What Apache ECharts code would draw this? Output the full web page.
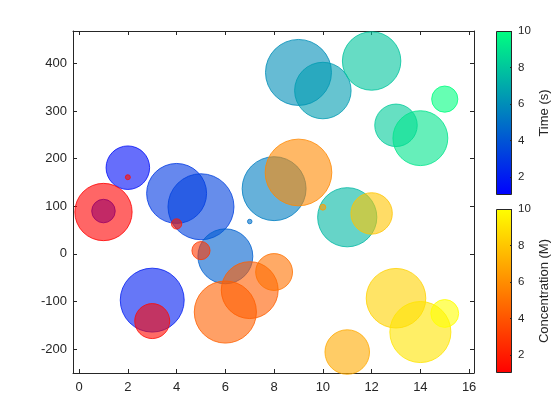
<!DOCTYPE html>
<html>
<head>
<meta charset="utf-8">
<script src="https://cdn.jsdelivr.net/npm/echarts@6/dist/echarts.min.js"></script>
<style>html,body{margin:0;padding:0;background:#fff;}#c{width:560px;height:420px;}</style>
</head>
<body>
<div id="c"></div>
<script>
// ---- data ----
const xValues = [1, 2, 3, 4, 5, 6, 7, 8, 9, 10, 11, 12, 13, 14, 15];
const timeY    = [90, 181, -97, 127, 99, -5, 68, 137, 381, 343, 77, 405, 270, 243, 325];
const timeSize = [12, 42, 91, 80, 97, 67, 0.1, 91, 97, 71, 78, 76, 40, 67, 15];
const timeVal  = [1, 1.5, 2, 3, 3.3, 4.4, 4.9, 5.4, 6, 6.5, 7.5, 7.9, 8.2, 9.1, 10];
const concY    = [88, 161, -141, 63, 7, -122, -76, -38, 171, 98, -206, 85, -93, -164, -125];
const concSize = [73, 0.2, 27, 2, 7, 86, 72, 30, 99, 0.4, 44, 38, 79, 83, 17];
const concVal  = [1, 1.5, 1.3, 2, 3, 4.4, 4.3, 5, 5.8, 6.5, 7, 7.9, 8.4, 9.1, 10];
const xTicks = [0, 2, 4, 6, 8, 10, 12, 14, 16];
const yTicks = [-200, -100, 0, 100, 200, 300, 400];
const cbTicks = [2, 4, 6, 8, 10];
const cbMin = 1, cbMax = 10;

// ---- colormaps ----
function winter(v) {
  const t = Math.max(0, Math.min(1, (v - cbMin) / (cbMax - cbMin)));
  return [0, Math.round(255 * t), Math.round(255 * (1 - 0.5 * t))];
}
function autumn(v) {
  const t = Math.max(0, Math.min(1, (v - cbMin) / (cbMax - cbMin)));
  return [255, Math.round(255 * t), 0];
}
function rgba(c, a) { return 'rgba(' + c[0] + ',' + c[1] + ',' + c[2] + ',' + a + ')'; }

function buildData(ys, sizes, vals, cmap) {
  return xValues.map((x, i) => {
    const c = cmap(vals[i]);
    return { value: [x, ys[i], sizes[i]], itemStyle: { color: rgba(c, 0.6), borderColor: rgba(c, 1) } };
  });
}
const dMin = 4, dMax = 67;
function bubbleSize(val) {
  return Math.sqrt(dMin * dMin + val[2] / 100 * (dMax * dMax - dMin * dMin));
}

const ink = '#262626';
const font = 'Liberation Sans, Arial, Helvetica, sans-serif';

function mainAxis(common) {
  return Object.assign({
    type: 'value',
    axisLine: { show: true, onZero: false, lineStyle: { color: ink, width: 1 } },
    axisTick: { show: true, inside: true, length: 4, lineStyle: { color: ink } },
    splitLine: { show: false }
  }, common);
}

const chart = echarts.init(document.getElementById('c'), null, { renderer: 'canvas' });
chart.setOption({
  animation: false,
  backgroundColor: '#fff',
  textStyle: { fontFamily: font },
  grid: [
    { left: 73, right: 86, top: 31, bottom: 47 },
    { left: 496, width: 16, top: 31, height: 164 },
    { left: 496, width: 16, top: 209, height: 164 }
  ],
  xAxis: [
    mainAxis({ gridIndex: 0, position: 'bottom', min: -0.25, max: 16.2,
      axisTick: { show: true, inside: true, length: 4, lineStyle: { color: ink }, customValues: xTicks },
      axisLabel: { color: ink, fontSize: 13, fontFamily: font, margin: 8, customValues: xTicks } }),
    mainAxis({ gridIndex: 0, position: 'top', min: -0.25, max: 16.2,
      axisTick: { show: true, inside: true, length: 4, lineStyle: { color: ink }, customValues: xTicks },
      axisLabel: { show: false } }),
    { gridIndex: 1, type: 'category', data: ['c'], show: false },
    { gridIndex: 2, type: 'category', data: ['c'], show: false }
  ],
  yAxis: [
    mainAxis({ gridIndex: 0, position: 'left', min: -250, max: 468,
      axisTick: { show: true, inside: true, length: 4, lineStyle: { color: ink }, customValues: yTicks },
      axisLabel: { color: ink, fontSize: 13, fontFamily: font, margin: 6, customValues: yTicks } }),
    mainAxis({ gridIndex: 0, position: 'right', min: -250, max: 468,
      axisTick: { show: true, inside: true, length: 4, lineStyle: { color: ink }, customValues: yTicks },
      axisLabel: { show: false } }),
    { gridIndex: 1, type: 'value', position: 'right', min: cbMin, max: cbMax, z: 10,
      name: 'Time (s)', nameLocation: 'middle', nameRotate: 90, nameGap: 26,
      nameTextStyle: { color: ink, fontSize: 13, fontFamily: font },
      axisLine: { show: false }, splitLine: { show: false },
      axisTick: { show: true, inside: true, length: 2, lineStyle: { color: ink }, customValues: cbTicks },
      axisLabel: { color: ink, fontSize: 11.5, fontFamily: font, margin: 6, customValues: cbTicks } },
    { gridIndex: 2, type: 'value', position: 'right', min: cbMin, max: cbMax, z: 10,
      name: 'Concentration (M)', nameLocation: 'middle', nameRotate: 90, nameGap: 26,
      nameTextStyle: { color: ink, fontSize: 13, fontFamily: font },
      axisLine: { show: false }, splitLine: { show: false },
      axisTick: { show: true, inside: true, length: 2, lineStyle: { color: ink }, customValues: cbTicks },
      axisLabel: { color: ink, fontSize: 11.5, fontFamily: font, margin: 6, customValues: cbTicks } }
  ],
  series: [
    { type: 'scatter', xAxisIndex: 0, yAxisIndex: 0, symbolSize: bubbleSize, clip: false,
      itemStyle: { opacity: 1, borderWidth: 0.8 }, emphasis: { disabled: true },
      data: buildData(timeY, timeSize, timeVal, winter), z: 2 },
    { type: 'scatter', xAxisIndex: 0, yAxisIndex: 0, symbolSize: bubbleSize, clip: false,
      itemStyle: { opacity: 1, borderWidth: 0.8 }, emphasis: { disabled: true },
      data: buildData(concY, concSize, concVal, autumn), z: 3 },
    { type: 'bar', xAxisIndex: 2, yAxisIndex: 2, stack: 'cb1', barWidth: '100%', silent: true,
      itemStyle: { color: 'rgba(0,0,0,0)' }, data: [cbMin] },
    { type: 'bar', xAxisIndex: 2, yAxisIndex: 2, stack: 'cb1', barWidth: '100%', silent: true,
      itemStyle: { borderColor: ink, borderWidth: 1,
        color: new echarts.graphic.LinearGradient(0, 0, 0, 1, [
          { offset: 0, color: rgba(winter(cbMax), 1) }, { offset: 1, color: rgba(winter(cbMin), 1) }]) },
      data: [cbMax - cbMin] },
    { type: 'bar', xAxisIndex: 3, yAxisIndex: 3, stack: 'cb2', barWidth: '100%', silent: true,
      itemStyle: { color: 'rgba(0,0,0,0)' }, data: [cbMin] },
    { type: 'bar', xAxisIndex: 3, yAxisIndex: 3, stack: 'cb2', barWidth: '100%', silent: true,
      itemStyle: { borderColor: ink, borderWidth: 1,
        color: new echarts.graphic.LinearGradient(0, 0, 0, 1, [
          { offset: 0, color: rgba(autumn(cbMax), 1) }, { offset: 1, color: rgba(autumn(cbMin), 1) }]) },
      data: [cbMax - cbMin] }
  ]
});
</script>
</body>
</html>
